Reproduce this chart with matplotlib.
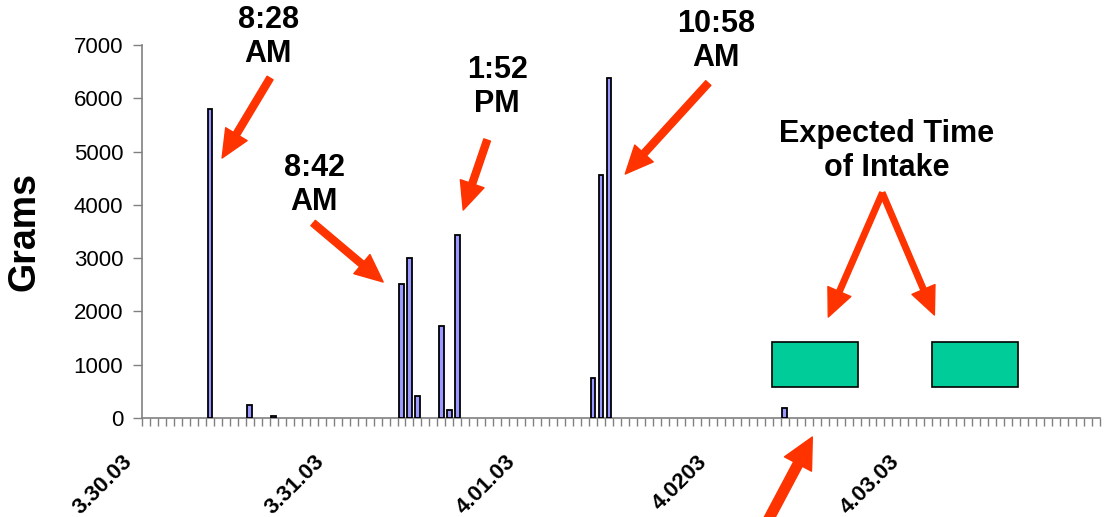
import matplotlib
matplotlib.use('Agg')
import matplotlib.pyplot as plt
from matplotlib.patches import Rectangle
import matplotlib.transforms as mtransforms
import numpy as np

plt.rcParams['font.family'] = ['Liberation Sans', 'DejaVu Sans']

# hourly slots over five days (24 per day)
n_slots = 120
day_labels = ['3.30.03', '3.31.03', '4.01.03', '4.0203', '4.03.03']
day_starts = [0, 24, 48, 72, 96]

# hours with intake and the grams recorded
intake_slots = [8, 13, 16, 32, 33, 34, 37, 38, 39, 56, 57, 58, 80]
intake_grams = [5800, 250, 30, 2520, 3010, 420, 1720, 150, 3440, 745, 4560, 6380, 180]

# expected intake windows (slot start, slot end) and their band
expected_windows = [(78.45, 89.22), (98.5, 109.27)]
expected_band = (590, 1430)

bar_color = '#9999FF'
box_color = '#00CC99'
arrow_color = '#FF3300'
axis_gray = '#808080'

fig = plt.figure(figsize=(11.08, 5.17), dpi=100)
ax = fig.add_axes([0.1282, 0.1915, 0.8646, 0.7215])

ax.bar(intake_slots, intake_grams, width=0.6, color=bar_color,
       edgecolor='black', linewidth=1.3, zorder=3)

for x0, x1 in expected_windows:
    ax.add_patch(Rectangle((x0, expected_band[0]), x1 - x0,
                           expected_band[1] - expected_band[0],
                           facecolor=box_color, edgecolor='black',
                           linewidth=1.2, zorder=3))

ax.set_xlim(-0.5, n_slots - 0.5)
ax.set_ylim(0, 7000)
ax.set_yticks(np.arange(0, 7001, 1000))
ax.tick_params(axis='y', labelsize=16, length=6.5, width=1,
               color=axis_gray, pad=7)

ax.set_xticks(day_starts)
ax.set_xticklabels(day_labels, rotation=45, ha='right',
                   rotation_mode='anchor', fontsize=16, fontweight='bold')
ax.set_xticks(np.arange(-0.5, n_slots, 1), minor=True)
ax.tick_params(axis='x', which='major', length=0, pad=24)
ax.tick_params(axis='x', which='minor', length=6, width=1,
               color=axis_gray, direction='out')
shift = mtransforms.ScaledTranslation(-24 / 100, 0, fig.dpi_scale_trans)
for lbl in ax.get_xticklabels():
    lbl.set_transform(lbl.get_transform() + shift)

for side in ['top', 'right']:
    ax.spines[side].set_visible(False)
for side in ['left', 'bottom']:
    ax.spines[side].set_color(axis_gray)
    ax.spines[side].set_linewidth(1.2)

ax.set_ylabel('Grams', fontsize=27, fontweight='bold')
ax.yaxis.set_label_coords(-0.104, 0.5)

arrow_kw = dict(facecolor=arrow_color, edgecolor=arrow_color,
                width=5, headwidth=18, headlength=20, shrink=0)


def note(text, x, y):
    ax.text(x, y, text, ha='center', va='center', fontsize=22,
            fontweight='bold', linespacing=1.2, clip_on=False)


def arrow(x0, y0, x1, y1, **kw):
    props = dict(arrow_kw)
    props.update(kw)
    ax.annotate('', xy=(x1, y1), xytext=(x0, y0), arrowprops=props,
                annotation_clip=False)


note('8:28\nAM', 15.29, 7150)
arrow(15.54, 6380, 9.53, 4879)

note('8:42\nAM', 21.05, 4372)
arrow(20.93, 3659, 29.7, 2552)

note('1:52\nPM', 43.99, 6211)
arrow(42.73, 5217, 39.73, 3903)

note('10:58\nAM', 71.43, 7074)
arrow(70.43, 6286, 60.03, 4579)

note('Expected Time\nof Intake', 92.73, 5010)
arrow(92.23, 4222, 85.46, 1895, width=4)
arrow(92.23, 4222, 98.75, 1933, width=4)

arrow(76.94, -2196, 83.46, -357, width=7, headwidth=22, headlength=22)

fig.savefig('out.png', dpi=100)
